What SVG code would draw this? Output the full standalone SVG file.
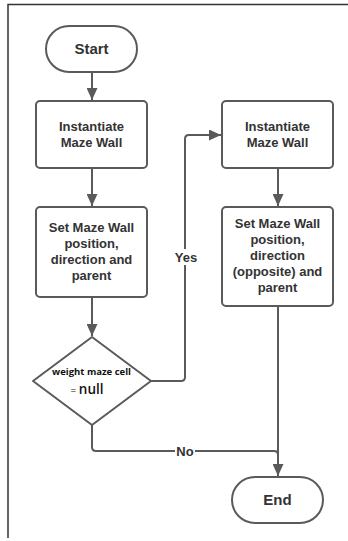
<svg xmlns="http://www.w3.org/2000/svg" width="348" height="541" viewBox="0 0 348 541">
  <style>
    .shape { fill: #ffffff; stroke: #5a5a5a; stroke-width: 2; }
    .wire { fill: none; stroke: #5a5a5a; stroke-width: 2; }
    .label { font-family: "Liberation Sans", Arial, sans-serif; font-weight: bold; font-size: 13px; fill: #333333; text-anchor: middle; }
    .term { font-size: 15px; }
    .cond { font-family: "Open Sans", "Noto Sans", sans-serif; fill: #111111; text-anchor: middle; }
  </style>
  <defs>
    <marker id="arrowhead" viewBox="0 0 10 10" refX="10" refY="5" markerWidth="12" markerHeight="11" markerUnits="userSpaceOnUse" orient="auto" preserveAspectRatio="none">
      <path d="M0,0 L10,5 L0,10 Z" fill="#5a5a5a"/>
    </marker>
  </defs>

  <rect width="348" height="541" fill="#ffffff"/>
  <!-- page frame -->
  <path d="M8,538 V4.5 H348" fill="none" stroke="#333333" stroke-width="1.5"/>

  <g id="connectors">
    <path class="wire" d="M92,72 V100" marker-end="url(#arrowhead)"/>
    <path class="wire" d="M92,168 V206" marker-end="url(#arrowhead)"/>
    <path class="wire" d="M92,297 V336" marker-end="url(#arrowhead)"/>
    <path class="wire" d="M151,381 H181 Q185,381 185,377 V139 Q185,135 189,135 H221" marker-end="url(#arrowhead)"/>
    <path class="wire" d="M278,168 V206" marker-end="url(#arrowhead)"/>
    <path class="wire" d="M278,306 V476" marker-end="url(#arrowhead)"/>
    <path class="wire" d="M92,425 V447 Q92,451 96,451 H274 Q278,451 278,455"/>
    <rect x="175" y="249" width="21" height="16" fill="#ffffff"/>
    <text class="label" x="186" y="262">Yes</text>
    <rect x="175" y="444" width="20" height="14" fill="#ffffff"/>
    <text class="label" x="185" y="456">No</text>
  </g>

  <g id="start">
    <rect class="shape" x="46" y="26" width="91" height="46" rx="23" ry="23"/>
    <text class="label term" x="91.5" y="54">Start</text>
  </g>

  <g id="instantiate-wall">
    <rect class="shape" x="36" y="101" width="111" height="67" rx="4" ry="4"/>
    <text class="label" x="91.5" y="131">Instantiate</text>
    <text class="label" x="91.5" y="147">Maze Wall</text>
  </g>

  <g id="instantiate-opposite-wall">
    <rect class="shape" x="222" y="101" width="111" height="67" rx="4" ry="4"/>
    <text class="label" x="277.5" y="131">Instantiate</text>
    <text class="label" x="277.5" y="147">Maze Wall</text>
  </g>

  <g id="set-wall">
    <rect class="shape" x="36" y="207" width="111" height="90" rx="4" ry="4"/>
    <text class="label" x="91.5" y="231.5">Set Maze Wall</text>
    <text class="label" x="91.5" y="247.5">position,</text>
    <text class="label" x="91.5" y="263.5">direction and</text>
    <text class="label" x="91.5" y="279.5">parent</text>
  </g>

  <g id="set-opposite-wall">
    <rect class="shape" x="222" y="207" width="111" height="99" rx="4" ry="4"/>
    <text class="label" x="277.5" y="227.5">Set Maze Wall</text>
    <text class="label" x="277.5" y="243.5">position,</text>
    <text class="label" x="277.5" y="259.5">direction</text>
    <text class="label" x="277.5" y="275.5">(opposite) and</text>
    <text class="label" x="277.5" y="291.5">parent</text>
  </g>

  <g id="weight-check">
    <path class="shape" d="M92,337 L151,381 L92,425 L33,381 Z" stroke-linejoin="round"/>
    <text class="cond" x="91.5" y="375" font-size="9.5" font-weight="bold">weight maze cell</text>
    <text class="cond" x="87" y="393.5" font-size="13.5" font-weight="600"><tspan font-size="10" font-weight="normal">= </tspan>null</text>
  </g>

  <g id="end">
    <rect class="shape" x="232" y="477" width="91" height="46" rx="23" ry="23"/>
    <text class="label term" x="277.5" y="505">End</text>
  </g>
</svg>
